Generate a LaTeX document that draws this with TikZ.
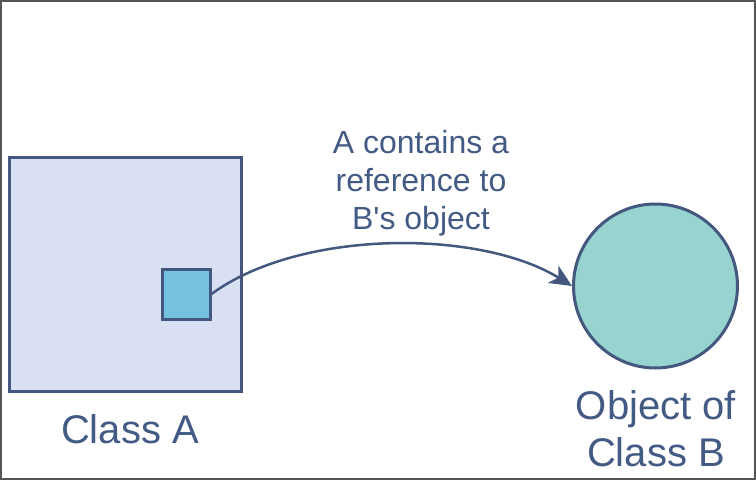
\documentclass[tikz,border=0pt]{standalone}
\usepackage{fontspec}
\setmainfont{Liberation Sans}[Ligatures=TeXOff]
\usetikzlibrary{arrows.meta}
\definecolor{strk}{HTML}{44587F}
\definecolor{txt}{HTML}{425A84}
\definecolor{fillA}{HTML}{DAE0F3}
\definecolor{fillS}{HTML}{74C2E0}
\definecolor{fillB}{HTML}{97D3CF}
\definecolor{frame}{HTML}{555555}
\tikzset{
  shapebox/.style={draw=strk, line width=3pt, rectangle, inner sep=0pt},
  lbl/.style={text=txt, align=center, inner sep=0pt},
}
\begin{document}
\begin{tikzpicture}[x=1pt,y=-1pt]
\useasboundingbox (0,0) rectangle (756,480);
\draw[frame, line width=2pt] (1,1) rectangle (755,479);
\node[shapebox, fill=fillA, minimum width=232pt, minimum height=234pt] (A) at (125.5,274) {};
\node[shapebox, fill=fillS, minimum width=48pt, minimum height=50pt] (S) at (186,294) {};
\node[draw=strk, line width=3pt, circle, fill=fillB, minimum size=164pt, inner sep=0pt] (B) at (655.5,286) {};
\draw[strk, line width=2.5pt, -{Stealth[length=22pt,width=20pt,inset=6pt]}]
  (S.east) .. controls (300,229) and (480,229) .. (B.west);
\node[lbl, font=\fontsize{32}{38}\selectfont, anchor=base] (L) at (421,229) {A contains a\\reference to\\B's object};
\node[lbl, font=\fontsize{40}{47}\selectfont, anchor=base] (CA) at (130,443) {Class A};
\node[lbl, font=\fontsize{40}{47}\selectfont, anchor=base] (CB) at (656,466) {Object of\\Class B};
\end{tikzpicture}
\end{document}
